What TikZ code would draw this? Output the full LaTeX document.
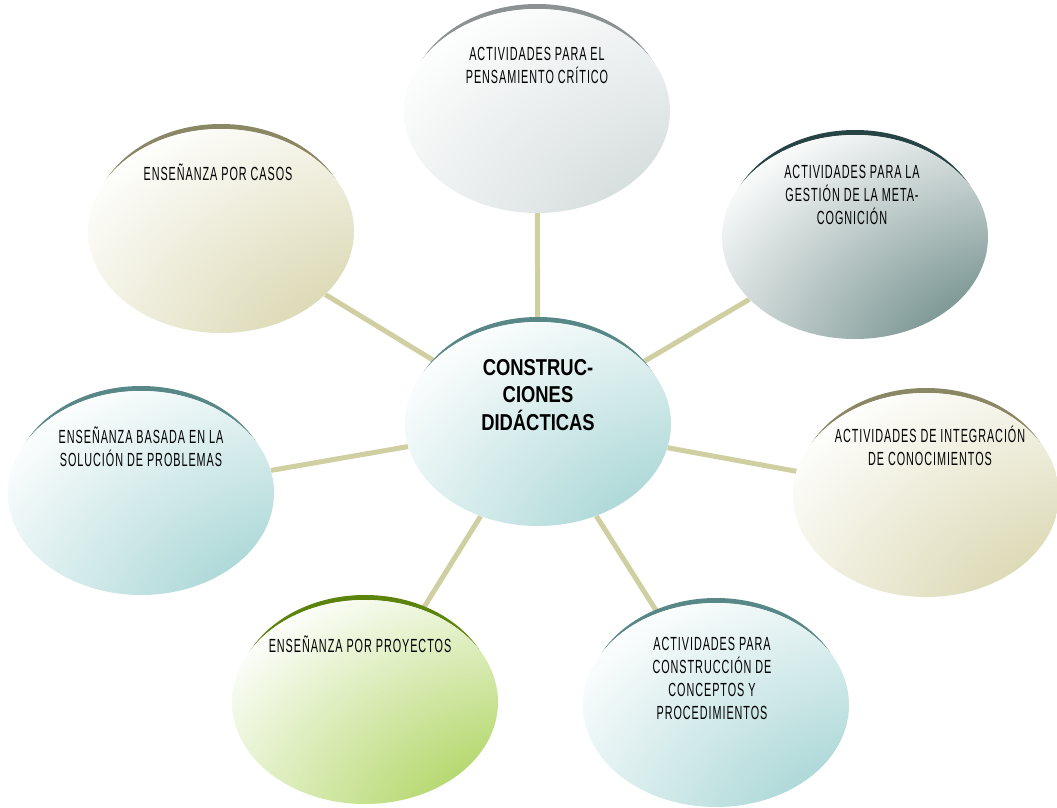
\documentclass[tikz,border=0pt]{standalone}
\usepackage{fontspec}
\usepackage{tikz}
\usetikzlibrary{positioning, shapes.geometric, backgrounds}
\newfontfamily\condfont[FakeStretch=0.57, LetterSpace=5]{Liberation Sans}
\newfontfamily\headfont[FakeStretch=0.8]{Liberation Sans}
\definecolor{linkc}{RGB}{207,207,162}
\definecolor{tealf}{RGB}{140,200,200}
\definecolor{tealarc}{RGB}{88,135,135}
\definecolor{olivef}{RGB}{205,202,150}
\definecolor{olivearc}{RGB}{138,136,100}
\definecolor{grayf}{RGB}{198,208,208}
\definecolor{grayarc}{RGB}{140,145,145}
\definecolor{darkf}{RGB}{70,108,104}
\definecolor{darkarc}{RGB}{38,68,68}
\definecolor{greenf}{RGB}{150,200,50}
\definecolor{greenarc}{RGB}{92,132,12}
\colorlet{bubc}{white}
\pgfdeclarefunctionalshading[bubc]{bubshade}{\pgfpoint{-50bp}{-50bp}}{\pgfpoint{50bp}{50bp}}
    {\pgfshadecolortorgb{bubc}{\bubrgb}%
     \pgfmathsetmacro\bubkr{1-\bubrgbred}%
     \pgfmathsetmacro\bubkg{1-\bubrgbgreen}%
     \pgfmathsetmacro\bubkb{1-\bubrgbblue}}
    {35 add 75 div dup mul exch 33 sub 75 div dup mul add sqrt
     1 exch sub dup abs add 2 div
     dup \bubkr\space mul 1 exch sub
     exch dup \bubkg\space mul 1 exch sub
     exch \bubkb\space mul 1 exch sub}

\begin{document}
\begin{tikzpicture}[x=1pt, y=1pt,
        bubble/.style={ellipse, minimum width=266pt, minimum height=204pt, inner sep=0pt,
            fill=white, /utils/exec={\colorlet{bubc}{#1}}, shading=bubshade},
        txt/.style={align=center, inner sep=0pt, font=\condfont\fontsize{19}{23}\selectfont},
        head/.style={align=center, inner sep=0pt, font=\headfont\bfseries\fontsize{23}{27.5}\selectfont},
        link/.style={draw=linkc, line width=5pt}]
        \useasboundingbox (0,0) rectangle (1057,-808);
        \node[bubble=tealf] (cd) at (538,-424) {};
        \node[bubble=grayf] (pens) at (537,-111) {};
        \node[bubble=darkf] (meta) at (855,-237) {};
        \node[bubble=olivef] (integ) at (926,-495) {};
        \node[bubble=tealf] (constr) at (716,-705) {};
        \node[bubble=greenf] (proy) at (365,-702) {};
        \node[bubble=tealf] (probl) at (141,-493) {};
        \node[bubble=olivef] (casos) at (221,-231) {};
        \begin{scope}[on background layer]
            \foreach \n in {pens, meta, integ, constr, proy, probl, casos}
                \draw[link] (cd) -- (\n);
            \foreach \n/\c in {cd/tealarc, pens/grayarc, meta/darkarc, integ/olivearc,
                    constr/tealarc, proy/greenarc, probl/tealarc, casos/olivearc}
                \fill[\c] ([yshift=5pt]\n.center) ellipse [x radius=129pt, y radius=102pt];
        \end{scope}
        \node[head, below=37pt of cd.north] (cdt) {CONSTRUC-\\CIONES\\DIDÁCTICAS};
        \node[txt, below=38pt of pens.north] (penst) {ACTIVIDADES PARA EL\\PENSAMIENTO CRÍTICO};
        \node[txt, below=30pt of meta.north, xshift=-3pt] (metat) {ACTIVIDADES PARA LA\\GESTIÓN DE LA META-\\COGNICIÓN};
        \node[txt, below=33pt of integ.north, xshift=4pt] (integt) {ACTIVIDADES DE INTEGRACIÓN\\DE CONOCIMIENTOS};
        \node[txt, below=34pt of constr.north, xshift=-4pt] (constrt) {ACTIVIDADES PARA\\CONSTRUCCIÓN DE\\CONCEPTOS Y\\PROCEDIMIENTOS};
        \node[txt, below=36pt of proy.north, xshift=-5pt] (proyt) {ENSEÑANZA POR PROYECTOS};
        \node[txt, below=36pt of probl.north] (problt) {ENSEÑANZA BASADA EN LA\\SOLUCIÓN DE PROBLEMAS};
        \node[txt, below=35pt of casos.north, xshift=-3pt] (casost) {ENSEÑANZA POR CASOS};
\end{tikzpicture}
\end{document}
